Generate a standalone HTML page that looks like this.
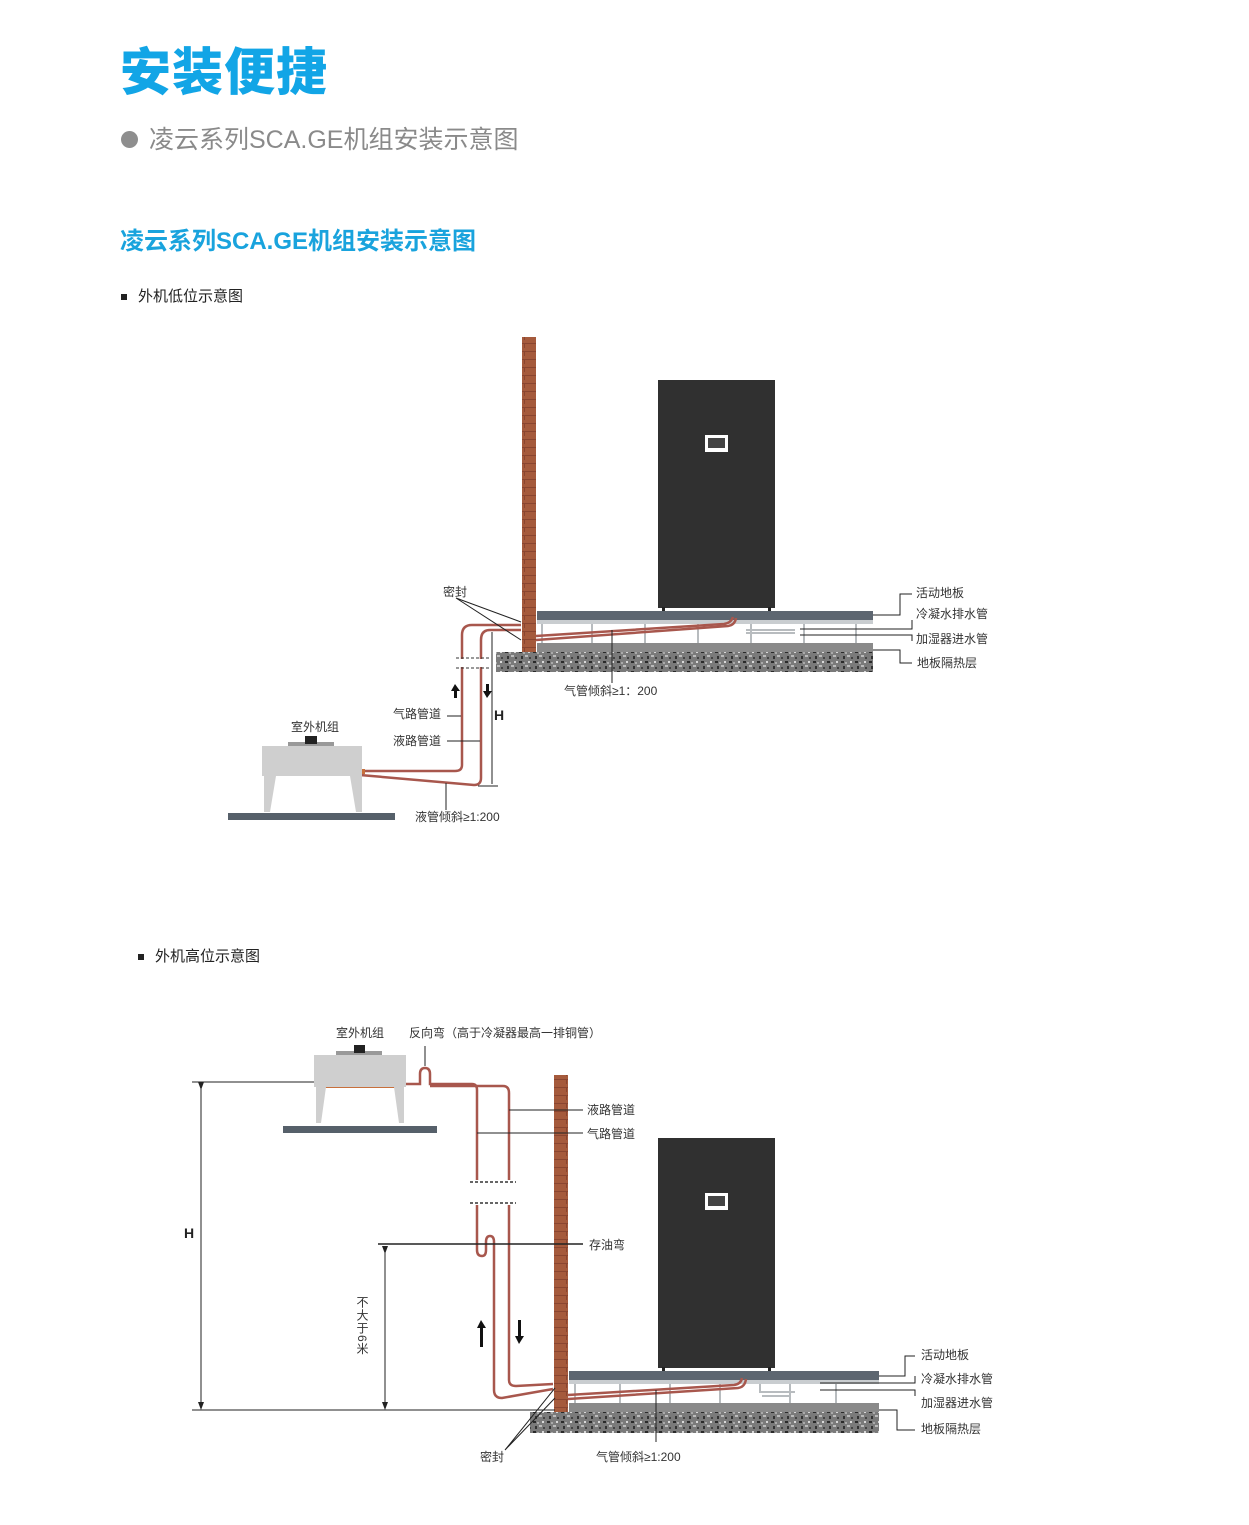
<!DOCTYPE html>
<html><head><meta charset="utf-8"><style>
html,body{margin:0;padding:0;background:#fff;}
body{width:1249px;height:1525px;position:relative;overflow:hidden;font-family:"Liberation Sans","Noto Sans CJK SC",sans-serif;}
.t{position:absolute;white-space:nowrap;}
</style></head><body>
<div class="t" style="left:120px;top:40px;font-size:51px;font-weight:900;color:#12a5e6;letter-spacing:1px;line-height:66px;">安装便捷</div>
<div class="t" style="left:121px;top:131px;width:17px;height:17px;border-radius:50%;background:#8e8e8e;"></div>
<div class="t" style="left:149px;top:123px;font-size:25px;color:#8a8a8a;line-height:34px;">凌云系列SCA.GE机组安装示意图</div>
<div class="t" style="left:120px;top:225px;font-size:24px;font-weight:bold;color:#19a3dd;line-height:34px;">凌云系列SCA.GE机组安装示意图</div>
<div class="t" style="left:121px;top:294px;width:6px;height:6px;background:#222;"></div>
<div class="t" style="left:138px;top:286px;font-size:15px;color:#222;line-height:22px;">外机低位示意图</div>
<div class="t" style="left:138px;top:954px;width:6px;height:6px;background:#222;"></div>
<div class="t" style="left:155px;top:946px;font-size:15px;color:#222;line-height:22px;">外机高位示意图</div>

<svg width="1249" height="1525" style="position:absolute;left:0;top:0" font-family="Liberation Sans, Noto Sans CJK SC, sans-serif" font-size="12" fill="#333">
<defs>
<pattern id="gr" width="14" height="10" patternUnits="userSpaceOnUse">
<rect width="14" height="10" fill="#7a7a7a"/>
<rect x="1" y="1" width="3" height="2" fill="#2a2a2a"/><rect x="7" y="5" width="3" height="2" fill="#bbb"/>
<rect x="10" y="1" width="2" height="2" fill="#d8d8d8"/><rect x="3" y="6" width="2" height="3" fill="#333"/>
<rect x="11" y="7" width="2" height="2" fill="#444"/><rect x="5" y="2" width="2" height="2" fill="#aaa"/>
</pattern>
<pattern id="br" width="14" height="8" patternUnits="userSpaceOnUse">
<rect width="14" height="8" fill="#a55a3c"/><rect x="0" y="7" width="14" height="1" fill="#8a4530"/><rect x="6" y="0" width="1" height="4" fill="#8a4530"/>
</pattern>
<marker id="ar" markerWidth="8" markerHeight="8" refX="4" refY="4" orient="auto"><path d="M0,1 L8,4 L0,7 z" fill="#222"/></marker>
</defs>

<rect x="522" y="337" width="14" height="315" fill="url(#br)"/>
<rect x="658" y="380" width="117" height="228" fill="#303030"/>
<rect x="705" y="435" width="23" height="17" fill="#fff"/><rect x="708" y="438" width="17" height="10" fill="#444"/>
<rect x="662" y="607" width="3" height="4" fill="#222"/><rect x="768" y="607" width="3" height="4" fill="#222"/>
<rect x="537" y="611" width="336" height="9" fill="#5d6670"/>
<rect x="537" y="620" width="336" height="4" fill="#c9cdd0"/>
<g stroke="#b8bcbf" stroke-width="2">
<line x1="542" y1="624" x2="542" y2="643"/><line x1="592" y1="624" x2="592" y2="643"/><line x1="645" y1="624" x2="645" y2="643"/><line x1="698" y1="624" x2="698" y2="643"/><line x1="751" y1="624" x2="751" y2="643"/><line x1="804" y1="624" x2="804" y2="643"/><line x1="856" y1="624" x2="856" y2="643"/>
<line x1="746" y1="630" x2="795" y2="630"/><line x1="746" y1="633" x2="795" y2="633"/>
</g>
<rect x="537" y="643" width="336" height="10" fill="#8a8a8a"/>
<rect x="496" y="652" width="377" height="20" fill="url(#gr)"/>
<g fill="none" stroke="#a8574d" stroke-width="2.5">
<path d="M536,640 L728,626 Q735,625 736,618"/>
<path d="M536,636 L724,624 Q731,623 733,617"/>
<path d="M521,625 L472,625 Q462,625 462,635 L462,765 Q462,771 455,771 L268,771"/>
<path d="M521,630 L490,630 Q481,630 481,640 L481,778 Q481,785 474,785 L360,775"/>
</g>
<rect x="265" y="769" width="100" height="5" fill="#c8703c"/>
<g stroke="#333" stroke-width="1" stroke-dasharray="3,2"><line x1="456" y1="658" x2="490" y2="658"/><line x1="456" y1="668" x2="490" y2="668"/></g>
<rect x="456" y="659" width="36" height="8" fill="#fff"/>
<rect x="262" y="746" width="100" height="30" fill="#cfcfcf"/>
<path d="M264,776 L276,776 L270,812 L264,812 z M350,776 L362,776 L362,812 L356,812 z" fill="#cfcfcf"/>
<rect x="288" y="742" width="46" height="4" fill="#999"/><rect x="305" y="736" width="12" height="8" fill="#222"/>
<rect x="228" y="813" width="167" height="7" fill="#56606a"/>
<path d="M455,684 L451,691 L454,691 L454,698 L457,698 L457,691 L460,691 z" fill="#111"/>
<path d="M487,698 L483,691 L486,691 L486,684 L489,684 L489,691 L492,691 z" fill="#111"/>
<line x1="492" y1="632" x2="492" y2="784" stroke="#222" stroke-width="1"/>
<line x1="478" y1="786" x2="498" y2="786" stroke="#222" stroke-width="1"/>
<text x="494" y="720" font-size="14" font-weight="bold" fill="#222">H</text>
<g stroke="#222" stroke-width="1" fill="none">
<path d="M456,598 L521,622 M456,598 L521,640"/>
<line x1="447" y1="716" x2="461" y2="716"/><line x1="447" y1="741" x2="480" y2="741"/>
<line x1="446" y1="783" x2="446" y2="810"/><line x1="612" y1="630" x2="612" y2="683"/>
<path d="M873,615 L900,615 L900,594 L912,594"/><path d="M800,629 L912,629 L912,620"/><path d="M800,635 L912,635 L912,641"/><path d="M873,650 L900,650 L900,663 L912,663"/>
</g>
<text x="443" y="596">密封</text>
<text x="393" y="718">气路管道</text>
<text x="393" y="745">液路管道</text>
<text x="291" y="731">室外机组</text>
<text x="415" y="821">液管倾斜≥1:200</text>
<text x="564" y="695">气管倾斜≥1：200</text>
<text x="916" y="597">活动地板</text>
<text x="916" y="618">冷凝水排水管</text>
<text x="916" y="643">加湿器进水管</text>
<text x="917" y="667">地板隔热层</text>

<rect x="554" y="1075" width="14" height="337" fill="url(#br)"/>
<rect x="658" y="1138" width="117" height="230" fill="#303030"/>
<rect x="705" y="1193" width="23" height="17" fill="#fff"/><rect x="708" y="1196" width="17" height="10" fill="#444"/>
<rect x="662" y="1367" width="3" height="4" fill="#222"/><rect x="768" y="1367" width="3" height="4" fill="#222"/>
<rect x="569" y="1371" width="310" height="9" fill="#5d6670"/>
<rect x="569" y="1380" width="310" height="4" fill="#c9cdd0"/>
<g stroke="#b8bcbf" stroke-width="2" fill="none">
<line x1="575" y1="1384" x2="575" y2="1403"/><line x1="620" y1="1384" x2="620" y2="1403"/><line x1="670" y1="1384" x2="670" y2="1403"/><line x1="720" y1="1384" x2="720" y2="1403"/><line x1="790" y1="1384" x2="790" y2="1403"/><line x1="836" y1="1384" x2="836" y2="1403"/>
<path d="M760,1384 L760,1392 L795,1392"/><line x1="762" y1="1396" x2="790" y2="1396"/>
</g>
<rect x="569" y="1403" width="310" height="10" fill="#8a8a8a"/>
<rect x="530" y="1412" width="349" height="21" fill="url(#gr)"/>
<g fill="none" stroke="#a8574d" stroke-width="2.5">
<path d="M568,1399 L738,1388 Q745,1387 746,1379"/>
<path d="M568,1395 L734,1385 Q741,1384 742,1378"/>
<path d="M405,1084 L420,1084 L420,1074 Q420,1068 425,1068 Q430,1068 430,1074 L430,1084 L472,1084 Q477,1084 477,1090 L477,1180"/>
<path d="M430,1086 L503,1086 Q509,1086 509,1093 L509,1180"/>
<path d="M477,1205 L477,1250 Q477,1256 482,1256 Q486,1256 486,1250 L486,1242 Q486,1236 490,1236 Q494,1236 494,1242 L494,1390 Q494,1398 502,1398 L553,1389"/>
<path d="M509,1205 L509,1380 Q509,1386 516,1386 L553,1384"/>
</g>
<rect x="319" y="1084" width="85" height="4" fill="#c8703c"/>
<g stroke="#333" stroke-width="1.5" stroke-dasharray="3,2"><line x1="470" y1="1182" x2="516" y2="1182"/><line x1="470" y1="1203" x2="516" y2="1203"/></g>
<rect x="314" y="1055" width="92" height="32" fill="#cfcfcf"/>
<path d="M316,1087 L326,1087 L321,1123 L316,1123 z M394,1087 L404,1087 L404,1123 L399,1123 z" fill="#cfcfcf"/>
<rect x="336" y="1051" width="46" height="4" fill="#999"/><rect x="354" y="1045" width="11" height="8" fill="#222"/>
<rect x="283" y="1126" width="154" height="7" fill="#56606a"/>
<path d="M481,1320 L477,1328 L480,1328 L480,1347 L483,1347 L483,1328 L486,1328 z" fill="#111"/>
<path d="M519,1344 L515,1336 L518,1336 L518,1320 L521,1320 L521,1336 L524,1336 z" fill="#111"/>
<g stroke="#222" stroke-width="1" fill="none">
<line x1="192" y1="1082" x2="314" y2="1082"/><line x1="192" y1="1410" x2="555" y2="1410"/>
<line x1="201" y1="1086" x2="201" y2="1406" marker-start="url(#ar)" marker-end="url(#ar)"/>
<line x1="385" y1="1250" x2="385" y2="1406" marker-start="url(#ar)" marker-end="url(#ar)"/>
<line x1="378" y1="1244" x2="583" y2="1244" stroke-width="1.5"/>
<line x1="425" y1="1046" x2="425" y2="1066"/>
<line x1="509" y1="1110" x2="583" y2="1110"/><line x1="477" y1="1133" x2="583" y2="1133"/>
<path d="M505,1450 L555,1388 M505,1450 L555,1398"/>
<line x1="656" y1="1390" x2="656" y2="1442"/>
<path d="M879,1376 L905,1376 L905,1356 L915,1356"/><path d="M820,1383 L915,1383 L915,1376"/><path d="M820,1390 L915,1390 L915,1396"/><path d="M879,1410 L897,1410 L897,1430 L915,1430"/>
</g>
<text x="184" y="1238" font-size="14" font-weight="bold" fill="#222">H</text>
<text x="336" y="1037">室外机组</text>
<text x="409" y="1037">反向弯（高于冷凝器最高一排铜管）</text>
<text x="587" y="1114">液路管道</text>
<text x="587" y="1138">气路管道</text>
<text x="589" y="1249">存油弯</text>
<text x="362" y="1296" style="writing-mode:vertical-rl;letter-spacing:1px">不大于6米</text>
<text x="480" y="1461">密封</text>
<text x="596" y="1461">气管倾斜≥1:200</text>
<text x="921" y="1359">活动地板</text>
<text x="921" y="1383">冷凝水排水管</text>
<text x="921" y="1407">加湿器进水管</text>
<text x="921" y="1433">地板隔热层</text>
</svg>
</body></html>
